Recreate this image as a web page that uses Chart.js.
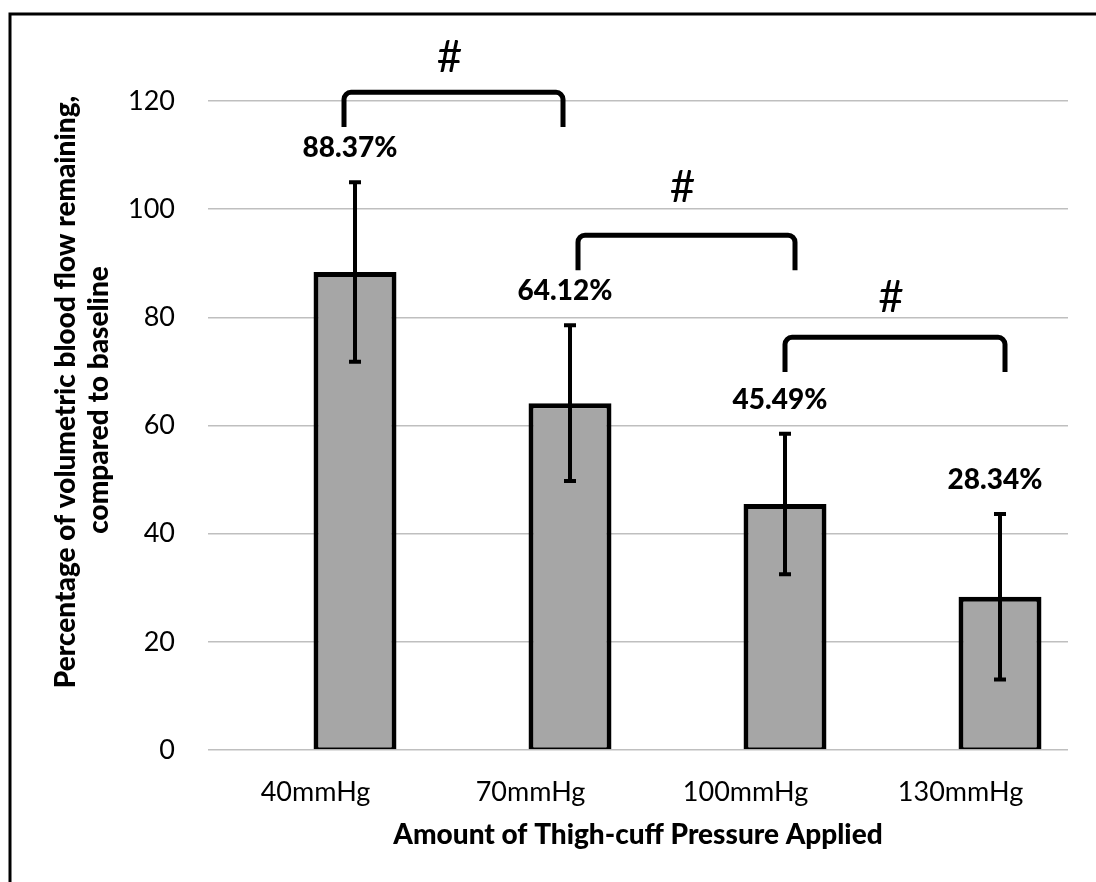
<!DOCTYPE html>
<html>
<head>
<meta charset="utf-8">
<script src="https://cdn.jsdelivr.net/npm/chart.js@4.4.1/dist/chart.umd.min.js"></script>
<style>
  body { margin: 0; background: #fff; overflow: hidden; }
  canvas { display: block; }
</style>
</head>
<body>
<canvas id="myChart" width="1096" height="882"></canvas>
<script>
// data
var categories = ['40mmHg', '70mmHg', '100mmHg', '130mmHg'];
var flowValues = [88.37, 64.12, 45.49, 28.34];
var flowErrors = [16.6, 14.4, 13.0, 15.3];
var valueLabels = ['88.37%', '64.12%', '45.49%', '28.34%'];
var yTicks = [0, 20, 40, 60, 80, 100, 120];

// significance brackets: from bar, to bar, top of bracket, end of legs, "#" height
var bracketFrom = [0, 1, 2];
var bracketTo = [1, 2, 3];
var bracketTop = [121.6, 95.2, 76.3];
var bracketLegEnd = [115.2, 88.7, 69.9];
var bracketMark = [127.9, 103.9, 83.7];

var yTitle = ['Percentage of volumetric blood flow remaining,', 'compared to baseline'];
var xTitle = 'Amount of Thigh-cuff Pressure Applied';

var FONT = 'Lato';

var extras = {
  id: 'extras',
  beforeDraw: function(chart) {
    var c = chart.ctx;
    c.save();
    c.fillStyle = '#fff';
    c.fillRect(0, 0, chart.width, chart.height);
    // outer frame (only top and left show in the picture)
    c.strokeStyle = '#000';
    c.lineWidth = 3;
    c.beginPath();
    c.moveTo(10, chart.height + 5);
    c.lineTo(10, 14);
    c.lineTo(chart.width + 5, 14);
    c.stroke();
    c.restore();
  },
  afterDatasetsDraw: function(chart) {
    var c = chart.ctx;
    var y = chart.scales.y;
    var bars = chart.getDatasetMeta(1).data;
    c.save();
    // error bars
    c.strokeStyle = '#000';
    c.lineWidth = 4;
    c.lineCap = 'butt';
    bars.forEach(function(bar, i) {
      var top = y.getPixelForValue(flowValues[i] + flowErrors[i]);
      var bot = y.getPixelForValue(flowValues[i] - flowErrors[i]);
      c.beginPath();
      c.moveTo(bar.x, top);
      c.lineTo(bar.x, bot);
      c.moveTo(bar.x - 6, top);
      c.lineTo(bar.x + 6, top);
      c.moveTo(bar.x - 6, bot);
      c.lineTo(bar.x + 6, bot);
      c.stroke();
      // value label
      c.fillStyle = '#000';
      c.font = '900 28px ' + FONT;
      c.textAlign = 'center';
      c.textBaseline = 'middle';
      c.fillText(valueLabels[i], bar.x - 5, top - 34);
    });
    // brackets
    var nudgeL = [-11, 8, 0];
    var nudgeR = [-7, 10, 5];
    c.lineWidth = 5;
    c.lineJoin = 'round';
    for (var k = 0; k < bracketFrom.length; k++) {
      var x1 = bars[bracketFrom[k]].x + nudgeL[k];
      var x2 = bars[bracketTo[k]].x + nudgeR[k];
      var yt = y.getPixelForValue(bracketTop[k]);
      var yb = y.getPixelForValue(bracketLegEnd[k]);
      c.beginPath();
      c.moveTo(x1, yb);
      c.arcTo(x1, yt, x2, yt, 7);
      c.arcTo(x2, yt, x2, yb, 7);
      c.lineTo(x2, yb);
      c.stroke();
      c.font = '44px ' + FONT;
      c.fillText('#', (x1 + x2) / 2 - 4, y.getPixelForValue(bracketMark[k]));
    }
    // y axis title, two lines
    c.font = '900 28px ' + FONT;
    c.save();
    c.translate(66, 392);
    c.rotate(-Math.PI / 2);
    c.fillText(yTitle[0], 0, 0);
    c.restore();
    c.save();
    c.translate(99, 400);
    c.rotate(-Math.PI / 2);
    c.fillText(yTitle[1], 0, 0);
    c.restore();
    c.restore();
  }
};

var ctx = document.getElementById('myChart').getContext('2d');
var myChart = new Chart(ctx, {
  type: 'bar',
  data: {
    labels: categories,
    datasets: [{
      label: 'spacer',
      data: categories.map(function() { return null; })
    }, {
      label: 'Blood flow',
      data: flowValues,
      backgroundColor: '#a6a6a6',
      borderColor: '#000',
      borderWidth: { top: 5, left: 5, right: 5, bottom: 2 },
      borderSkipped: false
    }]
  },
  options: {
    responsive: false,
    animation: false,
    layout: { padding: { left: 0, right: 28, top: 101, bottom: 0 } },
    plugins: {
      legend: { display: false },
      tooltip: { enabled: false }
    },
    datasets: { bar: { categoryPercentage: 0.735, barPercentage: 1.05 } },
    scales: {
      x: {
        grid: { display: false },
        border: { display: false },
        ticks: { color: '#000', font: { family: FONT, size: 27 }, padding: 18 },
        title: {
          display: true,
          text: xTitle,
          color: '#000',
          font: { family: FONT, size: 28, weight: '900' },
          padding: { top: 0, bottom: 30 }
        },
        afterFit: function(scale) { scale.height = 132; }
      },
      y: {
        min: 0,
        max: 120,
        afterBuildTicks: function(scale) {
          scale.ticks = yTicks.map(function(v) { return { value: v }; });
        },
        grid: { color: '#bfbfbf', lineWidth: 1.5, drawTicks: false },
        border: { display: false },
        ticks: { color: '#000', font: { family: FONT, size: 27 }, padding: 33 },
        afterFit: function(scale) { scale.width = 208; }
      }
    }
  },
  plugins: [extras]
});
</script>
</body>
</html>
